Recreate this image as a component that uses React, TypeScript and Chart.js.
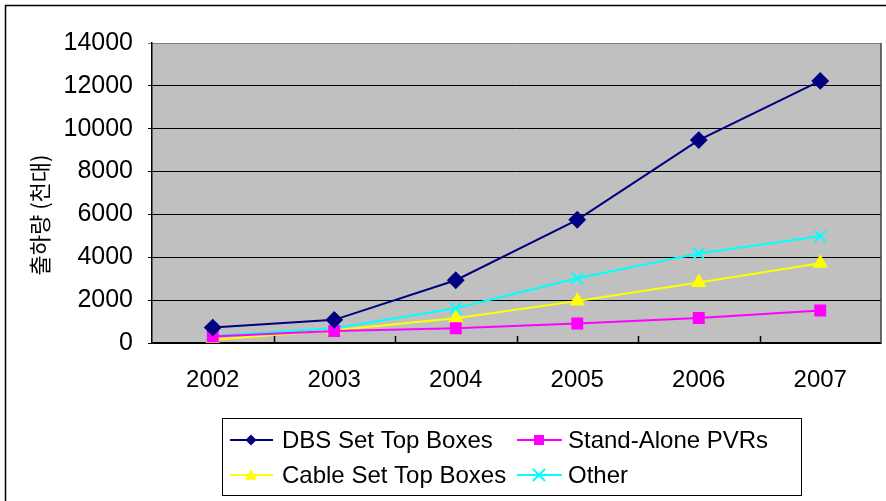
import React, { useEffect, useRef } from "react";
import { Chart, registerables } from "chart.js";

Chart.register(...registerables);

const years = ["2002", "2003", "2004", "2005", "2006", "2007"];
const dbsSetTopBoxes = [720, 1080, 2930, 5750, 9470, 12230];
const standAlonePVRs = [300, 560, 690, 910, 1170, 1520];
const cableSetTopBoxes = [150, 600, 1150, 1960, 2820, 3720];
const otherBoxes = [330, 690, 1620, 3020, 4180, 4980];
const seriesNames = ["DBS Set Top Boxes", "Stand-Alone PVRs", "Cable Set Top Boxes", "Other"];
const yTitle = "출하량 (천대)";

const W = 886;
const H = 501;

function drawMarker(ctx: CanvasRenderingContext2D, style: string, x: number, y: number, r: number, color: string) {
  ctx.save();
  ctx.fillStyle = color;
  ctx.strokeStyle = color;
  ctx.lineWidth = 2;
  ctx.beginPath();
  if (style === "rectRot") {
    ctx.moveTo(x, y - r);
    ctx.lineTo(x + r, y);
    ctx.lineTo(x, y + r);
    ctx.lineTo(x - r, y);
    ctx.closePath();
    ctx.fill();
  } else if (style === "rect") {
    ctx.rect(x - r, y - r, 2 * r, 2 * r);
    ctx.fill();
  } else if (style === "triangle") {
    ctx.moveTo(x, y - r);
    ctx.lineTo(x + r, y + r * 0.8);
    ctx.lineTo(x - r, y + r * 0.8);
    ctx.closePath();
    ctx.fill();
  } else {
    ctx.moveTo(x - r, y - r);
    ctx.lineTo(x + r, y + r);
    ctx.moveTo(x + r, y - r);
    ctx.lineTo(x - r, y + r);
    ctx.stroke();
  }
  ctx.restore();
}

const decorPlugin = {
  id: "decor",
  beforeDraw(chart: any) {
    const { ctx, chartArea } = chart;
    ctx.save();
    ctx.fillStyle = "#ffffff";
    ctx.fillRect(0, 0, W, H);
    ctx.fillStyle = "#c0c0c0";
    ctx.fillRect(chartArea.left, chartArea.top, chartArea.right - chartArea.left, chartArea.bottom - chartArea.top);
    ctx.strokeStyle = "#000000";
    ctx.lineWidth = 1.5;
    ctx.strokeRect(5.5, 5.5, W + 20, H + 20);
    ctx.restore();
  },
  afterDatasetsDraw(chart: any) {
    const { ctx, chartArea } = chart;
    ctx.save();
    ctx.strokeStyle = "#404040";
    ctx.lineWidth = 1.5;
    ctx.beginPath();
    ctx.moveTo(chartArea.right, chartArea.top);
    ctx.lineTo(chartArea.right, chartArea.bottom);
    ctx.stroke();
    const xs = chart.scales.x;
    ctx.strokeStyle = "#000000";
    ctx.lineWidth = 1.5;
    for (let i = 1; i < years.length; i++) {
      const px = Math.round((xs.getPixelForValue(i - 1) + xs.getPixelForValue(i)) / 2) + 0.5;
      ctx.beginPath();
      ctx.moveTo(px, chartArea.bottom);
      ctx.lineTo(px, chartArea.bottom - 7);
      ctx.stroke();
    }
    ctx.translate(40, 215);
    ctx.rotate(-Math.PI / 2);
    ctx.fillStyle = "#000000";
    ctx.font = '22px "Noto Sans CJK KR", "Liberation Sans", sans-serif';
    ctx.textAlign = "center";
    ctx.textBaseline = "middle";
    ctx.fillText(yTitle, 0, 0);
    ctx.restore();

    ctx.save();
    ctx.strokeStyle = "#000000";
    ctx.lineWidth = 1;
    ctx.strokeRect(222.5, 418.5, 579, 77);
    const items = chart.data.datasets.map((d: any) => ({
      label: d.label,
      color: d.borderColor,
      style: d.pointStyle,
    }));
    const cols = [
      { lx0: 230, lx1: 273, mx: 251, tx: 282 },
      { lx0: 517, lx1: 562, mx: 539, tx: 568 },
    ];
    const rows = [440, 475];
    items.forEach((it: any, k: number) => {
      const c = cols[k % 2];
      const y = rows[Math.floor(k / 2)];
      ctx.strokeStyle = it.color;
      ctx.lineWidth = 2;
      ctx.beginPath();
      ctx.moveTo(c.lx0, y);
      ctx.lineTo(c.lx1, y);
      ctx.stroke();
      const rr = it.style === "rect" ? 5 : it.style === "rectRot" ? 5.5 : 6;
      drawMarker(ctx, it.style, c.mx, y, rr, it.color);
      ctx.fillStyle = "#000000";
      ctx.font = '24px "Liberation Sans", Arial, sans-serif';
      ctx.textAlign = "left";
      ctx.textBaseline = "middle";
      ctx.fillText(it.label, c.tx, y + 1);
    });
    ctx.restore();
  },
};

export default function App() {
  const ref = useRef<HTMLCanvasElement | null>(null);
  useEffect(() => {
    if (!ref.current) return;
    const chart = new Chart(ref.current, {
      type: "line",
      data: {
        labels: years,
        datasets: [
          {
            label: seriesNames[0],
            data: dbsSetTopBoxes,
            borderColor: "#000080",
            backgroundColor: "#000080",
            pointStyle: "rectRot",
            pointRadius: 7.5,
            borderWidth: 2,
          },
          {
            label: seriesNames[1],
            data: standAlonePVRs,
            borderColor: "#ff00ff",
            backgroundColor: "#ff00ff",
            pointStyle: "rect",
            pointRadius: 7,
            borderWidth: 2,
          },
          {
            label: seriesNames[2],
            data: cableSetTopBoxes,
            borderColor: "#ffff00",
            backgroundColor: "#ffff00",
            pointStyle: "triangle",
            pointRadius: 7,
            borderWidth: 2,
          },
          {
            label: seriesNames[3],
            data: otherBoxes,
            borderColor: "#00ffff",
            backgroundColor: "#00ffff",
            pointStyle: "crossRot",
            pointRadius: 8,
            pointBorderWidth: 2,
            borderWidth: 2,
          },
        ],
      },
      options: {
        responsive: false,
        animation: false,
        layout: { autoPadding: false, padding: { left: 0, top: 43, right: 5, bottom: 0 } },
        plugins: { legend: { display: false }, tooltip: { enabled: false } },
        elements: { line: { tension: 0 } },
        scales: {
          x: {
            offset: true,
            grid: { display: false },
            border: { display: true, color: "#000000", width: 1.5 },
            ticks: {
              color: "#000000",
              font: { family: '"Liberation Sans", Arial, sans-serif', size: 24 },
              padding: 15,
              maxRotation: 0,
            },
            afterFit(scale: any) {
              scale.height = 158;
              scale.paddingLeft = 0;
              scale.paddingRight = 0;
            },
          },
          y: {
            min: 0,
            max: 14000,
            ticks: {
              stepSize: 2000,
              color: "#000000",
              font: { family: '"Liberation Sans", Arial, sans-serif', size: 25 },
              padding: 15,
              callback: (v: any) => String(v),
            },
            grid: {
              color: (c: any) => (c.tick && c.tick.value === 14000 ? "#808080" : "#000000"),
              lineWidth: 1,
              tickLength: 4,
            },
            border: { display: true, color: "#000000", width: 1.5 },
            afterFit(scale: any) {
              scale.width = 152;
              scale.paddingTop = 0;
              scale.paddingBottom = 0;
            },
          },
        },
      },
      plugins: [decorPlugin],
    });
    return () => chart.destroy();
  }, []);
  return (
    <div style={{ position: "absolute", left: 0, top: 0, width: W, height: H }}>
      <canvas ref={ref} width={W} height={H} style={{ display: "block", width: W, height: H }} />
    </div>
  );
}
